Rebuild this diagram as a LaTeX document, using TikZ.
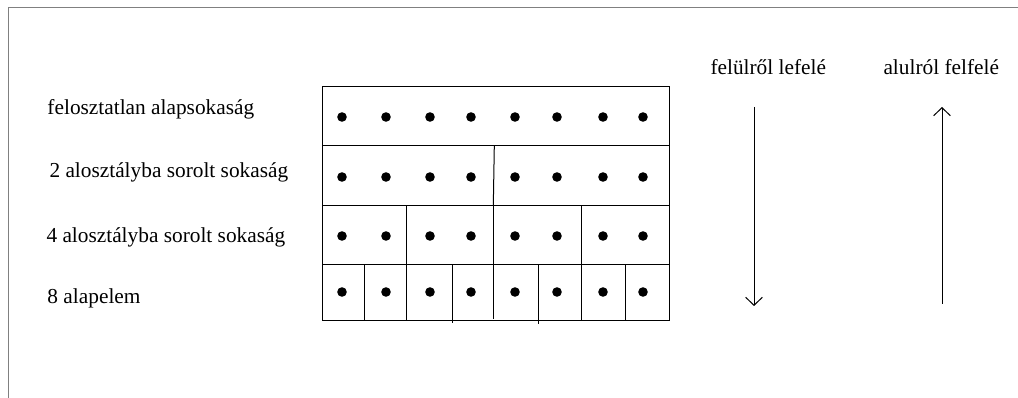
\documentclass[tikz,border=0pt]{standalone}
\usepackage{fontspec}
\setmainfont{Liberation Serif}
\usetikzlibrary{arrows.meta}

\begin{document}
\begin{tikzpicture}[x=0.75pt,y=-0.75pt,line width=0.75pt,
    rowtext/.style={anchor=base west,inner sep=0pt,font=\fontsize{16}{19}\selectfont},
    >={Straight Barb[length=6pt,width=12.5pt]}]
    \useasboundingbox (0,0) rectangle (1018,398);

    % Frame
    \draw[gray] (8,398) -- (8,8) -- (1018,8);

    % Row labels
    \node[rowtext] (undivided) at (47,115) {felosztatlan alapsokaság};
    \node[rowtext] (twoclass) at (49,178) {2 alosztályba sorolt sokaság};
    \node[rowtext] (fourclass) at (46,243) {4 alosztályba sorolt sokaság};
    \node[rowtext] (eightunit) at (47,304) {8 alapelem};

    % Grid
    \draw (322,87) rectangle (669,321);
    \draw (322,146) -- (669,146);
    \draw (322,206) -- (669,206);
    \draw (322,265) -- (669,265);

    % Two classes
    \draw (494.3,146) -- (493.3,206);

    % Four classes
    \draw (406,206) -- (406,265);
    \draw (493.3,206) -- (493.3,265);
    \draw (581,206) -- (581,265);

    % Eight units
    \draw (364,265) -- (364,320);
    \draw (406,265) -- (406,321);
    \draw (452,265) -- (452,323.5);
    \draw (493.3,265) -- (493.3,319.5);
    \draw (538,265) -- (538,324);
    \draw (581,265) -- (581,321);
    \draw (625,265) -- (625,320);

    % Elements
    \foreach \y in {117,177,236,292}
      \foreach \x in {342,386,430,471,515,557,603,643}
        \fill (\x,\y) circle (3.6pt);

    % Top-down
    \node[rowtext] (topdown) at (710,75) {felülről lefelé};
    \coordinate (downstart) at (754,107);
    \coordinate (downend) at (754,306);
    \draw[->] (downstart) -- (downend);

    % Bottom-up
    \node[rowtext] (bottomup) at (883,75) {alulról felfelé};
    \coordinate (upstart) at (942,304);
    \coordinate (upend) at (942,107);
    \draw[->] (upstart) -- (upend);
\end{tikzpicture}
\end{document}
